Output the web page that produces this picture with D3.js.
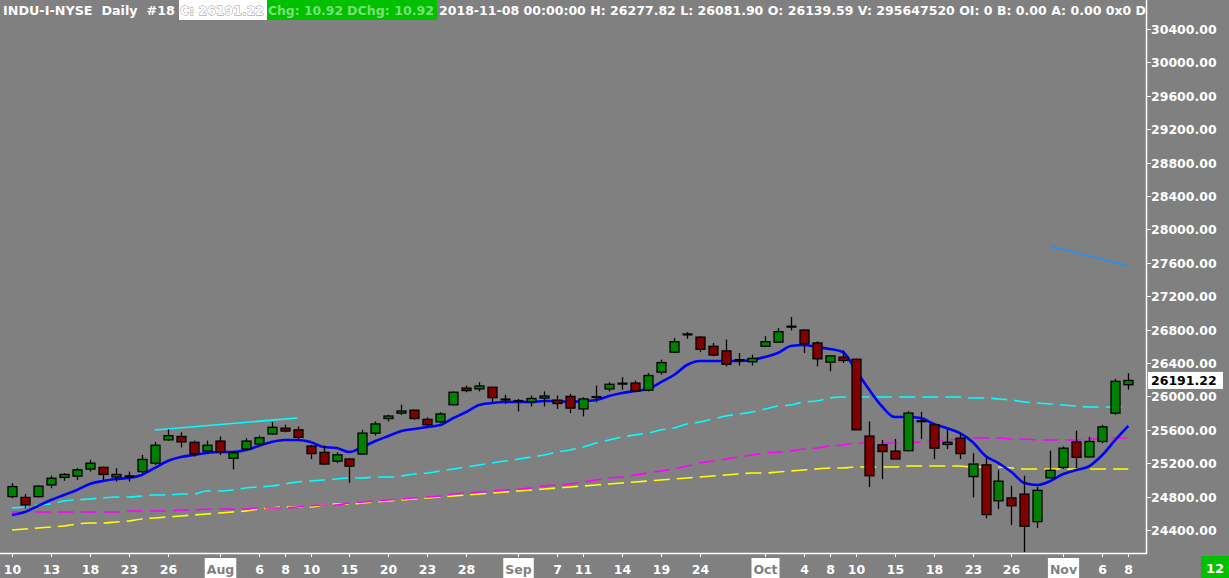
<!DOCTYPE html>
<html><head><meta charset="utf-8">
<script src="https://cdn.jsdelivr.net/npm/d3@7"></script>
<style>body{margin:0;background:#808080;overflow:hidden}svg{display:block}</style>
</head><body><svg id="c" width="1229" height="578"></svg>
<script>
const dates = [
 "2018-07-10","2018-07-11","2018-07-12","2018-07-13","2018-07-16","2018-07-17","2018-07-18","2018-07-19","2018-07-20","2018-07-23",
 "2018-07-24","2018-07-25","2018-07-26","2018-07-27","2018-07-30","2018-07-31","2018-08-01","2018-08-02","2018-08-03","2018-08-06",
 "2018-08-07","2018-08-08","2018-08-09","2018-08-10","2018-08-13","2018-08-14","2018-08-15","2018-08-16","2018-08-17","2018-08-20",
 "2018-08-21","2018-08-22","2018-08-23","2018-08-24","2018-08-27","2018-08-28","2018-08-29","2018-08-30","2018-08-31","2018-09-04",
 "2018-09-05","2018-09-06","2018-09-07","2018-09-10","2018-09-11","2018-09-12","2018-09-13","2018-09-14","2018-09-17","2018-09-18",
 "2018-09-19","2018-09-20","2018-09-21","2018-09-24","2018-09-25","2018-09-26","2018-09-27","2018-09-28","2018-10-01","2018-10-02",
 "2018-10-03","2018-10-04","2018-10-05","2018-10-08","2018-10-09","2018-10-10","2018-10-11","2018-10-12","2018-10-15","2018-10-16",
 "2018-10-17","2018-10-18","2018-10-19","2018-10-22","2018-10-23","2018-10-24","2018-10-25","2018-10-26","2018-10-29","2018-10-30",
 "2018-10-31","2018-11-01","2018-11-02","2018-11-05","2018-11-06","2018-11-07","2018-11-08"];
const open = [24800,24790,24800,24940,25030,25045,25130,25150,25035,25040,
 25100,25200,25480,25520,25450,25345,25465,25260,25370,25430,
 25550,25620,25600,25405,25330,25225,25250,25310,25560,25735,
 25800,25835,25725,25695,25900,26100,26090,26110,25960,25940,
 25935,25980,25955,26000,25850,25990,26090,26150,26160,26075,
 26290,26530,26740,26710,26600,26545,26430,26415,26600,26650,
 26840,26795,26640,26410,26470,26445,25525,25420,25345,25350,
 25700,25660,25425,25500,25040,25180,24750,24785,24830,24500,
 25025,25150,25455,25275,25460,25800,26139.59];
const high = [24960,24830,24940,25050,25080,25140,25240,25160,25140,25100,
 25300,25455,25605,25570,25470,25470,25520,25340,25500,25530,
 25695,25660,25640,25420,25410,25330,25260,25600,25700,25780,
 25900,25840,25750,25810,26060,26130,26170,26115,26020,25970,
 26010,26060,26010,26030,25990,26130,26170,26230,26190,26280,
 26440,26700,26770,26720,26640,26680,26520,26500,26720,26820,
 26950,26800,26660,26490,26550,26450,25700,25480,25490,25825,
 25815,25680,25610,25560,25320,25270,25120,24930,25050,24915,
 25350,25400,25590,25515,25660,26210,26277.82];
const low = [24780,24660,24790,24900,24990,25000,25100,25000,24980,24980,
 25080,25180,25470,25390,25280,25330,25300,25125,25350,25410,
 25540,25570,25490,25250,25180,25200,24965,25300,25530,25700,
 25780,25720,25630,25680,25890,26050,26060,25930,25910,25820,
 25880,25880,25850,25800,25760,25930,26060,26080,26050,26060,
 26260,26520,26690,26530,26480,26360,26370,26370,26590,26640,
 26790,26520,26360,26300,26400,25600,24915,25010,25250,25340,
 25490,25250,25370,25250,24790,24540,24650,24460,24135,24425,
 25020,25130,25140,25270,25440,25780,26081.90];
const close = [24920,24700,24925,25020,25065,25120,25200,25065,25065,25045,
 25245,25415,25530,25455,25310,25415,25335,25325,25465,25505,
 25630,25585,25510,25315,25190,25300,25165,25560,25670,25765,
 25825,25735,25660,25790,26050,26070,26125,25985,25965,25950,
 25975,26005,25915,25860,25970,25995,26145,26155,26065,26250,
 26405,26655,26745,26565,26495,26385,26440,26455,26655,26775,
 26830,26630,26450,26485,26430,25600,25050,25340,25250,25800,
 25705,25380,25450,25315,25190,24585,24985,24690,24445,24875,
 25115,25380,25270,25460,25635,26180,26191.22];
// short moving average (blue)
const maBlue = [24580,24616,24688,24759,24819,24879,24951,24987,25011,25023,
 25059,25143,25226,25274,25298,25322,25334,25334,25358,25406,
 25454,25478,25478,25454,25394,25382,25334,25394,25466,25526,
 25586,25610,25634,25658,25741,25813,25897,25921,25933,25933,
 25933,25945,25945,25933,25945,25957,26005,26041,26065,26089,
 26172,26256,26376,26424,26424,26424,26424,26436,26472,26520,
 26604,26616,26592,26568,26532,26316,26089,25885,25753,25753,
 25741,25670,25622,25562,25454,25286,25202,25095,24963,24939,
 24987,25071,25119,25166,25298,25478,25646];
// medium moving average (cyan)
const maCyan = [24664,24676,24700,24712,24748,24760,24772,24784,24796,24796,
 24807,24819,24819,24831,24831,24867,24867,24879,24903,24915,
 24927,24951,24975,24987,24999,25011,25023,25023,25035,25035,
 25047,25071,25083,25107,25131,25155,25179,25203,25226,25250,
 25274,25298,25334,25358,25394,25442,25478,25514,25538,25562,
 25598,25622,25670,25694,25730,25766,25789,25813,25849,25885,
 25897,25933,25945,25981,25993,25993,25993,25993,25993,25993,
 25993,25993,25993,25993,25981,25981,25969,25957,25933,25921,
 25909,25897,25885,25873,25873,25873,25873];
// long moving average (magenta)
const maMagenta = [24616,24616,24616,24616,24616,24616,24616,24616,24616,24628,
 24628,24628,24628,24640,24640,24652,24652,24652,24652,24664,
 24664,24664,24676,24688,24700,24700,24724,24735,24747,24759,
 24771,24783,24795,24807,24831,24843,24855,24867,24879,24891,
 24903,24927,24939,24951,24975,24999,25023,25035,25059,25083,
 25107,25131,25166,25202,25226,25250,25274,25298,25322,25334,
 25346,25370,25382,25406,25418,25442,25442,25442,25442,25442,
 25454,25466,25478,25490,25502,25502,25502,25490,25490,25478,
 25478,25478,25478,25490,25490,25502,25502];
// longest moving average (yellow)
const maYellow = [24400,24412,24424,24436,24448,24472,24484,24484,24496,24508,
 24532,24544,24556,24568,24580,24592,24604,24616,24628,24652,
 24664,24676,24676,24676,24700,24712,24712,24724,24735,24747,
 24759,24771,24783,24795,24807,24819,24831,24843,24855,24867,
 24879,24891,24903,24915,24927,24939,24951,24963,24975,24987,
 24999,25011,25023,25035,25047,25059,25071,25083,25083,25095,
 25107,25119,25131,25143,25143,25155,25155,25155,25155,25166,
 25166,25166,25166,25166,25155,25155,25155,25143,25131,25131,
 25131,25131,25131,25131,25131,25131,25131];
// drawn trendlines: [startDate, startPrice, endDate, endPrice]
const trendCyan = ["2018-07-25",25598,"2018-08-09",25741];
const trendBlue = ["2018-10-31",27801,"2018-11-08",27562];
const tickDates = ["2018-07-10","2018-07-13","2018-07-18","2018-07-23","2018-07-26","2018-08-01","2018-08-06","2018-08-08","2018-08-10","2018-08-15",
 "2018-08-20","2018-08-23","2018-08-28","2018-09-04","2018-09-07","2018-09-11","2018-09-14","2018-09-19","2018-09-24","2018-10-01",
 "2018-10-04","2018-10-08","2018-10-10","2018-10-15","2018-10-18","2018-10-23","2018-10-26","2018-11-01","2018-11-06","2018-11-08"];
const tickLabels = ["10","13","18","23","26","Aug","6","8","10","15","20","23","28","Sep","7","11","14","19","24","Oct","4","8","10","15","18","23","26","Nov","6","8"];
const monthLabels = ["Aug","Sep","Oct","Nov"];
const priceTicks = [24400,24800,25200,25600,26000,26400,26800,27200,27600,28000,28400,28800,29200,29600,30000,30400];
const lastPrice = 26191.22;
const headerParts = ["INDU-I-NYSE  Daily  #18","C: 26191.22","Chg: 10.92","DChg: 10.92",
 "2018-11-08 00:00:00 H: 26277.82 L: 26081.90 O: 26139.59 V: 295647520 OI: 0 B: 0.00 A: 0.00 0x0 D"];
const barCountLabel = "12";

const W = 1229, H = 578, axisX = 1146, axisY = 553;
const svg = d3.select("#c");
const FONT = "'DejaVu Sans', Verdana, sans-serif";
svg.append("rect").attr("width", W).attr("height", H).attr("fill", "#808080");

const x = d3.scalePoint().domain(dates).range([12, 1128.3]);
const y = d3.scaleLinear().domain([24400, 30400]).range([530, 29]);

svg.append("clipPath").attr("id", "plot").append("rect").attr("x", 0).attr("y", 0).attr("width", axisX).attr("height", axisY);
const g = svg.append("g").attr("clip-path", "url(#plot)");

// moving averages
const idx = d3.range(dates.length);
function maLine(arr, color, width, dash) {
  const line = d3.line().x(i => x(dates[i])).y(i => y(arr[i])).curve(d3.curveMonotoneX);
  g.append("path").attr("d", line(idx)).attr("fill", "none").attr("stroke", color)
    .attr("stroke-width", width).attr("stroke-dasharray", dash || null);
}
maLine(maYellow, "#ffff00", 1.6, "16,7");
maLine(maMagenta, "#ff00ff", 1.6, "16,7");
maLine(maCyan, "#00ffff", 1.6, "16,7");

// trendlines
function trend(t, color, w, dash) {
  g.append("line").attr("x1", x(t[0])).attr("y1", y(t[1])).attr("x2", x(t[2])).attr("y2", y(t[3]))
    .attr("stroke", color).attr("stroke-width", w).attr("stroke-dasharray", dash || null);
}
trend(trendCyan, "#00ffff", 1.6);
trend(trendBlue, "#1e90ff", 1.4);

maLine(maBlue, "#0000ff", 2.6);

// candles
const bw = 9;
const candles = g.append("g");
idx.forEach(i => {
  const cx = Math.round(x(dates[i])) + 0.5;
  candles.append("line").attr("x1", cx).attr("x2", cx).attr("y1", y(high[i])).attr("y2", y(low[i]))
    .attr("stroke", "#000").attr("stroke-width", 1.3);
  const top = y(Math.max(open[i], close[i])), bot = y(Math.min(open[i], close[i]));
  if (bot - top < 1.3) {
    candles.append("line").attr("x1", cx - bw / 2 - 0.5).attr("x2", cx + bw / 2 + 0.5).attr("y1", (top + bot) / 2).attr("y2", (top + bot) / 2)
      .attr("stroke", "#000").attr("stroke-width", 2.2);
  } else {
    candles.append("rect").attr("x", cx - bw / 2).attr("y", top).attr("width", bw).attr("height", bot - top)
      .attr("fill", close[i] > open[i] ? "#008000" : "#800000").attr("stroke", "#000").attr("stroke-width", 1.3);
  }
});

// frame
svg.append("line").attr("x1", axisX + 0.5).attr("x2", axisX + 0.5).attr("y1", 0).attr("y2", axisY + 1).attr("stroke", "#fff").attr("stroke-width", 1.5);
svg.append("line").attr("x1", 0).attr("x2", axisX + 1).attr("y1", axisY + 0.5).attr("y2", axisY + 0.5).attr("stroke", "#fff").attr("stroke-width", 1.5);

// y axis
const yAxis = svg.append("g");
priceTicks.forEach(v => {
  const yy = Math.round(y(v)) + 0.5;
  yAxis.append("line").attr("x1", axisX + 1).attr("x2", axisX + 5).attr("y1", yy).attr("y2", yy).attr("stroke", "#fff").attr("stroke-width", 1);
  yAxis.append("text").attr("x", axisX + 5).attr("y", yy).attr("dy", "0.36em").text(d3.format(".2f")(v))
    .attr("fill", "#fff").attr("font-family", FONT).attr("font-weight", "bold").attr("font-size", "12.5px");
});
// last price box
const ly = y(lastPrice);
svg.append("rect").attr("x", axisX + 2).attr("y", ly - 8.5).attr("width", 75).attr("height", 17).attr("fill", "#fff");
svg.append("text").attr("x", axisX + 5).attr("y", ly).attr("dy", "0.36em").text(d3.format(".2f")(lastPrice))
  .attr("fill", "#000").attr("font-family", FONT).attr("font-weight", "bold").attr("font-size", "12.5px");

// x axis
const xAxis = svg.append("g");
tickDates.forEach((d, k) => {
  const xx = Math.round(x(d)) + 0.5;
  const lab = tickLabels[k];
  xAxis.append("line").attr("x1", xx).attr("x2", xx).attr("y1", axisY).attr("y2", axisY + 4).attr("stroke", "#fff");
  const isMonth = monthLabels.includes(lab);
  const t = xAxis.append("text").attr("x", xx).attr("y", 574).attr("text-anchor", "middle").text(lab)
    .attr("font-family", FONT).attr("font-weight", "bold").attr("font-size", "12.5px")
    .attr("fill", isMonth ? "#808080" : "#fff");
  if (isMonth) {
    const bb = t.node().getBBox();
    xAxis.insert("rect", "text").attr("x", bb.x - 2).attr("y", 558).attr("width", bb.width + 4).attr("height", 20).attr("fill", "#fff");
  }
});
// bar count box
svg.append("rect").attr("x", 1201).attr("y", 556).attr("width", 28).attr("height", 22).attr("fill", "#00c000");
svg.append("text").attr("x", 1215).attr("y", 573).attr("text-anchor", "middle").text(barCountLabel)
  .attr("fill", "#fff").attr("font-family", FONT).attr("font-weight", "bold").attr("font-size", "13px");

// header
const hdr = svg.append("g").attr("clip-path", "url(#plot)");
const segs = [
  {t: headerParts[0], x0: 3, x1: 177, box: null, fill: "#fff"},
  {t: headerParts[1], x0: 180, x1: 266, box: "#ffffff", fill: "#fff", stroke: "#8a8a8a"},
  {t: headerParts[2], x0: 268, x1: 345, box: "#00c000", fill: "#77e077"},
  {t: headerParts[3], x0: 347, x1: 436, box: "#00c000", fill: "#77e077"},
  {t: headerParts[4], x0: 439, x1: 1148, box: null, fill: "#fff"}
];
segs.forEach(s => {
  if (s.box) hdr.append("rect").attr("x", s.x0 - 1).attr("y", 0).attr("width", s.x1 - s.x0 + 2).attr("height", 20).attr("fill", s.box);
  const t = hdr.append("text").attr("x", s.x0).attr("y", 15).text(s.t).style("white-space", "pre")
    .attr("font-family", FONT).attr("font-weight", "bold").attr("font-size", "13px").attr("fill", s.fill)
    .attr("textLength", s.x1 - s.x0 - 2).attr("lengthAdjust", "spacingAndGlyphs");
  if (s.stroke) t.attr("stroke", s.stroke).attr("stroke-width", 0.8).attr("paint-order", "stroke");
});
</script></body></html>
